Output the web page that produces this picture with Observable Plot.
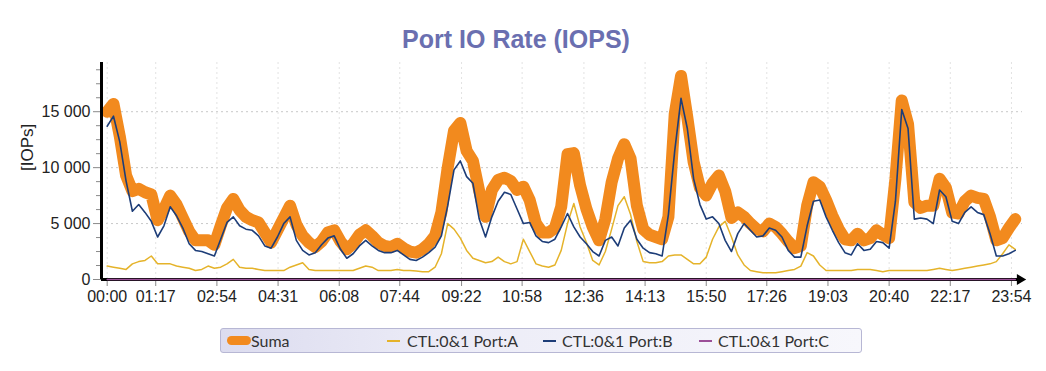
<!DOCTYPE html>
<html>
<head>
<meta charset="utf-8">
<script src="https://cdn.jsdelivr.net/npm/d3@7"></script>
<script src="https://cdn.jsdelivr.net/npm/@observablehq/plot@0.6"></script>
<style>
  html, body { margin: 0; padding: 0; background: #ffffff; }
  #wrap { position: relative; width: 1046px; height: 371px; overflow: hidden; }
  #title { position: absolute; left: 0; top: 27px; width: 1032px; text-align: center;
           font: bold 25px "Liberation Sans", Arial, sans-serif; line-height: 25px; color: #6a6fb0; }
  #chart { position: absolute; left: 0; top: 56px; }
  #legend { position: absolute; left: 220px; top: 328px; width: 642px; height: 25px;
            border: 1px solid #b7b7d4; border-radius: 3px; box-sizing: border-box;
            background: linear-gradient(to right, #dcdcef 0%, #ececf7 35%, #f7f7fc 100%);
            font: 16px Lato, "Open Sans", sans-serif; color: #333; }
  #legend .it { position: absolute; top: 0; height: 23px; line-height: 23px; white-space: nowrap; }
  #legend .sw { position: absolute; }
</style>
</head>
<body>
<div id="wrap">
  <div id="title">Port IO Rate (IOPS)</div>
  <div id="chart"></div>
  <div id="legend"></div>
</div>
<script>
// time of day in minutes, one sample every 10 minutes (00:00 .. 24:00)
const minutes = d3.range(0, 1441, 10);

const sumaValues = [
  15000,15700,12800,9300,7900,8100,7800,7600,5300,6300,
  7500,6700,5500,4300,3500,3500,3500,3100,4800,6400,
  7200,6200,5600,5300,5100,4200,3300,4400,5500,6600,
  4900,3900,3300,2900,3400,4200,4400,3400,2700,3200,
  4000,4400,3900,3300,3000,2900,3200,2800,2500,
  2400,2700,3200,3900,6000,10000,13300,14000,11500,10600,
  7900,5600,8000,8900,9100,8800,8000,8300,7100,5000,
  4200,4200,4600,6500,11200,11300,8400,6300,4700,3500,
  5400,8700,10800,12100,10800,6600,4500,4000,3800,3600,
  5600,14800,18200,14500,10500,8200,7500,8600,
  9300,7900,5500,6000,5600,5000,4500,4300,5000,4700,
  4100,3400,2800,3000,6600,8700,8300,7100,5700,4500,
  3600,3500,4100,3500,3700,4400,4000,3700,9000,16000,
  13900,6900,6400,6600,6600,9000,8200,6000,5900,7000,
  7500,7300,7200,5600,3500,3700,4600,5400
];

const portAValues = [
  1200,1100,1000,900,1400,1600,1700,2100,1400,1400,
  1400,1200,1100,1000,800,900,1200,1000,1100,1400,
  1800,1100,1000,1000,900,800,800,800,800,1100,
  1300,1500,900,800,800,800,800,800,800,800,
  1000,1200,1100,800,800,800,900,800,800,
  750,700,700,1100,2300,5000,4500,3700,2600,1900,
  1700,1500,1600,2000,1600,1400,1600,3600,2500,1400,
  1200,1100,1300,2600,5000,6800,4700,3300,1700,1300,
  2500,4500,6600,7400,5800,3400,1600,1500,1500,1600,
  2100,2200,2200,1800,1400,1400,2000,3600,
  4700,5200,3800,2200,1300,800,700,600,600,600,
  700,800,900,1200,2400,2100,1300,800,800,800,
  800,800,900,900,900,800,700,800,800,800,
  800,800,800,800,900,1000,900,800,900,1000,
  1100,1200,1300,1400,1600,2300,3100,2700
];

const portBValues = [
  13700,14600,12300,8800,6100,6700,6000,5200,3800,4800,
  6500,5700,4600,3200,2600,2500,2300,2100,3600,5100,
  5600,4800,4500,4400,3900,3000,2800,3800,5000,5600,
  3500,2600,2200,2400,3100,3700,3900,2700,1900,2300,
  3000,3500,3000,2600,2400,2400,2600,2200,1800,
  1700,2000,2400,2900,3900,6600,9800,10600,9200,8600,
  5400,3800,5600,7000,7800,7600,6300,5000,5100,3900,
  3400,3300,3600,4700,5900,4700,3800,3200,2500,2100,
  3500,3800,3000,4600,5300,3600,2800,2400,2300,2100,
  5800,11500,16200,13500,9000,6700,5400,5600,
  5000,3500,2500,4100,5000,4400,3800,3900,4600,4400,
  3800,2600,2000,2000,4800,7000,7100,5600,4400,3300,
  2400,2200,3200,2600,2700,3400,3300,2800,7000,15200,
  13500,5400,5500,5400,5000,8000,7400,5200,5000,6000,
  6500,6000,5800,4100,2100,2100,2300,2600
];

const portCValues = [
  0,0,0,0,0,0,0,0,0,0, 0,0,0,0,0,0,0,0,0,0, 0,0,0,0,0,0,0,0,0,0,
  0,0,0,0,0,0,0,0,0,0, 0,0,0,0,0,0,0,0,0,
  0,0,0,0,0,0,0,0,0,0, 0,0,0,0,0,0,0,0,0,0, 0,0,0,0,0,0,0,0,0,0,
  0,0,0,0,0,0,0,0,0,0, 0,0,0,0,0,0,0,0,
  0,0,0,0,0,0,0,0,0,0, 0,0,0,0,0,0,0,0,0,0, 0,0,0,0,0,0,0,0,0,0,
  0,0,0,0,0,0,0,0,0,0, 0,0,0,0,0,0,0,0
];

const seriesNames = ["Suma", "CTL:0&1 Port:A", "CTL:0&1 Port:B", "CTL:0&1 Port:C"];
const seriesColors = ["#f28a1e", "#e5b32a", "#1d3d78", "#9b4f98"];

const xTickMinutes = [0, 77, 174, 271, 368, 464, 562, 658, 756, 853, 950, 1046, 1143, 1240, 1337, 1434];
const yMajorTicks = [0, 5000, 10000, 15000];
const yMinorTicks = [1250, 2500, 3750, 6250, 7500, 8750, 11250, 12500, 13750, 16250, 17500, 18750];
const yLabel = "[IOPs]";

const xDomain = [-9, 1451.5];
const yDomain = [0, 19400];

const hhmm = m => String(Math.floor(m / 60)).padStart(2, "0") + ":" + String(m % 60).padStart(2, "0");
const yFmt = d => d3.format(",")(d).replace(/,/g, " ");

const rows = vals => minutes.map((m, i) => ({m, v: vals[i]}));

const chart = Plot.plot({
  width: 1046,
  height: 259,
  marginLeft: 101,
  marginRight: 24,
  marginTop: 6,
  marginBottom: 36,
  style: {fontFamily: "'Liberation Sans', Arial, sans-serif", fontSize: "16px", color: "#222", background: "transparent", overflow: "visible"},
  x: {domain: xDomain},
  y: {domain: yDomain},
  marks: [
    Plot.gridY(yMajorTicks.filter(d => d > 0), {stroke: "#c8c8c8", strokeOpacity: 1, strokeDasharray: "2,3"}),
    Plot.gridX(xTickMinutes, {stroke: "#e2e2e2", strokeOpacity: 1, strokeDasharray: "2,3"}),
    Plot.axisY(yMinorTicks, {tickSize: 5, tickFormat: () => "", stroke: "#8a8a8a", label: null}),
    Plot.axisY(yMajorTicks, {tickSize: 8, tickPadding: 3, tickFormat: yFmt, stroke: "#8a8a8a", label: null, fontSize: 16, fill: "#222"}),
    Plot.axisX(xTickMinutes, {tickSize: 7, tickPadding: 4, tickFormat: hhmm, stroke: "#8a8a8a", label: null, fontSize: 16, fill: "#222"}),
    Plot.line(rows(sumaValues), {x: "m", y: "v", stroke: seriesColors[0], strokeWidth: 12, strokeLinecap: "round", strokeLinejoin: "round"}),
    Plot.line(rows(portAValues), {x: "m", y: "v", stroke: seriesColors[1], strokeWidth: 1.5}),
    Plot.line(rows(portBValues), {x: "m", y: "v", stroke: seriesColors[2], strokeWidth: 1.6}),
    Plot.ruleX([xDomain[0]], {y1: yDomain[0], y2: yDomain[1], stroke: "#000", strokeWidth: 3}),
    Plot.ruleY([0], {x1: xDomain[0], x2: xDomain[1] - 2, stroke: "#000", strokeWidth: 3}),
    Plot.dot([0], {x: () => xDomain[1] - 4, y: 0, symbol: "triangle", rotate: 90, r: 4, fill: "#000", stroke: null}),
    Plot.line(rows(portCValues), {x: "m", y: "v", stroke: seriesColors[3], strokeWidth: 1.5}),
    Plot.text([yLabel], {frameAnchor: "left", rotate: -90, dx: -74, fontSize: 17, fill: "#222"})
  ]
});
document.getElementById("chart").appendChild(chart);

// legend
const legend = document.getElementById("legend");
const legendLayout = [
  {sw: {left: 6, width: 24, height: 9, radius: 5}, text: 30},
  {sw: {left: 166, width: 13, height: 2, radius: 0}, text: 186},
  {sw: {left: 322, width: 13, height: 2, radius: 0}, text: 341},
  {sw: {left: 478, width: 13, height: 2, radius: 0}, text: 497}
];
seriesNames.forEach((name, i) => {
  const L = legendLayout[i];
  const sw = document.createElement("div");
  sw.className = "sw";
  sw.style.left = L.sw.left + "px";
  sw.style.width = L.sw.width + "px";
  sw.style.height = L.sw.height + "px";
  sw.style.top = (11.5 - L.sw.height / 2) + "px";
  sw.style.borderRadius = L.sw.radius + "px";
  sw.style.background = seriesColors[i];
  legend.appendChild(sw);
  const t = document.createElement("div");
  t.className = "it";
  t.style.left = L.text + "px";
  t.textContent = name;
  legend.appendChild(t);
});
</script>
</body>
</html>
